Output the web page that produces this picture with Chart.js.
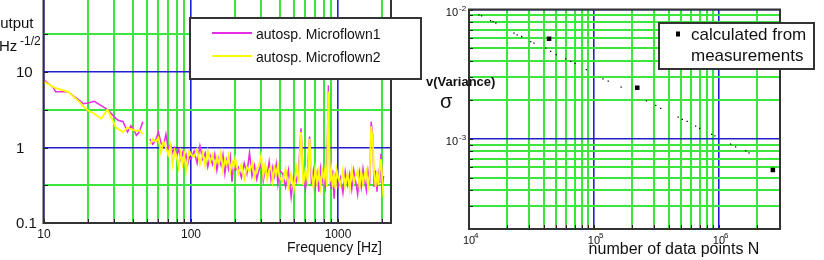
<!DOCTYPE html>
<html>
<head>
<meta charset="utf-8">
<script src="https://cdn.jsdelivr.net/npm/chart.js@4.4.0/dist/chart.umd.min.js"></script>
<style>
  body { margin: 0; background: #fff; width: 824px; height: 260px; overflow: hidden; position: relative; }
  #left { position: absolute; left: 0; top: 0; }
  #right { position: absolute; left: 410px; top: 0; }
</style>
</head>
<body>
<canvas id="left" width="430" height="260"></canvas>
<canvas id="right" width="414" height="260"></canvas>
<script>
// ---- left chart: spectra ----
var freqs = [
  10, 11.5, 12, 14.5, 17.5, 18.5, 20, 22, 24.5, 27, 31, 32, 34.5, 37, 39, 41, 42.5, 44.5, 47, 50,
  52.5, 55, 57.5, 60, 62.5, 65, 67.5, 70, 72.5, 75, 77.5, 80, 82.5, 85, 87.5, 90, 92.5, 95, 97.5, 100,
  105, 110, 115, 120, 125, 130, 135, 140, 145, 150, 155, 160, 165, 170, 175, 180, 185, 190, 195, 200,
  210, 220, 230, 240, 250, 260, 270, 280, 290, 300, 310, 320, 330, 340, 350, 360, 370, 380, 390, 400,
  420, 440, 460, 480, 500, 520, 540, 560, 580, 600, 620, 640, 660, 680, 700, 720, 740, 760, 780, 800,
  820, 840, 860, 880, 900, 920, 940, 960, 980, 1000,
  1040, 1080, 1120, 1160, 1200, 1240, 1280, 1320, 1360, 1400, 1440, 1480, 1520, 1560, 1600, 1640,
  1680, 1720, 1760, 1800, 1840, 1880, 1920, 1960, 2000, 2040
]
var micro1 = [
  7.8, 6.3, 5.5, 5.5, 4.2, 3.8, 3.9, 4.1, 3.6, 3.2, 2.4, 2.3, 2.2, 1.6, 1.95, 1.7, 1.45, 1.6, 2.2, null,
  1.3, 1.1, 1.25, 1.6, 1.15, 1.05, 1.5, 0.95, 1.1, 0.85, 1.0, 0.8, 0.95, 0.7, 0.85, 0.65, 0.8, 0.6, 0.75, 0.7,
  0.9, 0.62, 1.05, 0.7, 0.85, 0.55, 0.78, 0.6, 0.82, 0.5, 0.72, 0.58, 0.8, 0.45, 0.68, 0.52, 0.75, 0.35, 0.6, 0.5,
  0.55, 0.4, 0.62, 0.45, 0.85, 0.42, 0.58, 0.38, 0.5, 0.6, 0.36, 0.52, 0.44, 0.65, 0.38, 0.55, 0.42, 0.6, 0.33, 0.5,
  0.45, 0.3, 0.5, 0.22, 0.42, 0.35, 0.52, 1.8, 0.4, 0.28, 0.48, 1.4, 0.33, 0.5, 0.3, 0.45, 0.26, 0.52, 0.35, 0.44,
  0.3, 0.55, 6.7, 0.4, 0.28, 0.5, 0.21, 0.42, 0.35, 0.3,
  0.4, 0.25, 0.48, 0.32, 0.45, 0.28, 0.5, 0.35, 0.24, 0.46, 0.3, 0.52, 0.36, 0.27, 0.48, 0.33,
  2.2, 1.45, 0.3, 0.5, 0.26, 0.45, 0.34, 0.83, 0.28, 0.42
]
var micro2 = [
  7.4, 6.4, 6.1, 5.5, 4.0, 3.5, 3.1, 2.8, 2.4, 3.2, 1.8, 1.75, 1.6, 1.85, 1.75, 1.7, 1.65, 1.7, 1.5, null,
  1.1, 1.3, 1.2, 1.35, 0.85, 1.2, 1.0, 0.8, 1.05, 0.6, 0.9, 0.75, 0.55, 0.85, 0.6, 0.8, 0.5, 0.7, 0.9, 0.8,
  0.75, 0.95, 0.6, 0.85, 0.58, 0.9, 0.65, 0.8, 0.55, 0.75, 0.62, 0.85, 0.5, 0.7, 0.6, 0.78, 0.48, 0.65, 0.55, 0.72,
  0.45, 0.6, 0.38, 0.55, 0.48, 0.62, 0.4, 0.52, 0.58, 0.78, 0.42, 0.6, 0.38, 0.5, 0.56, 0.36, 0.54, 0.45, 0.58, 0.4,
  0.35, 0.52, 0.3, 0.45, 0.28, 0.55, 0.38, 1.6, 0.32, 0.5, 0.36, 1.3, 0.46, 0.3, 0.52, 0.34, 0.48, 0.3, 0.5, 0.38,
  0.55, 0.3, 5.5, 0.35, 0.5, 0.3, 0.45, 0.28, 0.5, 0.4,
  0.32, 0.5, 0.3, 0.45, 0.28, 0.52, 0.34, 0.42, 0.5, 0.3, 0.48, 0.33, 0.45, 0.5, 0.3, 0.44,
  1.9, 1.3, 0.45, 0.3, 0.48, 0.32, 0.5, 0.7, 0.38, 0.22
]
var xGridL = [10, 20, 30, 40, 50, 60, 70, 80, 90, 100, 200, 300, 400, 500, 600, 700, 800, 900, 1000, 2000]
var yGridL = [0.1, 0.316, 1, 3.16, 10, 31.6]
var xLabelsL = ['10', '100', '1000']
var yLabelsL = ['0.1', '1', '10']
var seriesNames = ['autosp. Microflown1', 'autosp. Microflown2']

// ---- right chart: sigma vs N ----
var nDots = [1.20e4, 1.26e4, 1.49e4, 1.56e4, 1.64e4, 2.29e4, 2.43e4, 2.64e4, 3.12e4, 3.31e4, 4.11e4, 4.50e4,
  4.99e4, 5.94e4, 6.51e4, 7.05e4, 8.68e4, 1.18e5, 1.30e5, 1.65e5, 2.63e5, 3.12e5, 3.42e5, 4.72e5, 5.09e5,
  5.57e5, 6.51e5, 7.01e5, 8.74e5, 9.29e5, 1.24e6, 1.36e6, 1.64e6, 1.74e6]
var sigmaDots = [9.07e-3, 8.91e-3, 8.20e-3, 8.06e-3, 7.83e-3, 6.56e-3, 6.37e-3, 6.18e-3, 5.65e-3, 5.50e-3,
  5.03e-3, 4.74e-3, 4.47e-3, 4.14e-3, 3.97e-3, 3.83e-3, 3.43e-3, 2.91e-3, 2.79e-3, 2.51e-3, 1.96e-3, 1.81e-3,
  1.72e-3, 1.47e-3, 1.41e-3, 1.36e-3, 1.25e-3, 1.20e-3, 1.08e-3, 1.05e-3, 9.08e-4, 8.65e-4, 8.06e-4, 7.78e-4]
var nMeas = [4.37e4, 2.22e5, 2.70e6]
var sigmaMeas = [5.93e-3, 2.48e-3, 5.73e-4]
var xGridR = [1e4, 2e4, 3e4, 4e4, 5e4, 6e4, 7e4, 8e4, 9e4, 1e5, 2e5, 3e5, 4e5, 5e5, 6e5, 7e5, 8e5, 9e5, 1e6, 2e6]
var yGridR = [2e-4, 3e-4, 4e-4, 5e-4, 6e-4, 7e-4, 8e-4, 9e-4, 1e-3, 2e-3, 3e-3, 4e-3, 5e-3, 6e-3, 7e-3, 8e-3, 9e-3, 1e-2]
var xLabelsR = [['10', '4'], ['10', '5'], ['10', '6']]
var yLabelsR = [['10', '-3'], ['10', '-2']]

var GREEN = '#3ce63c', BLUE = '#1f1fcc', AXIS = '#333333'
var MAGENTA = '#e62ee6', YELLOW = '#ffff00'
var FONT = "'Liberation Sans', Arial, sans-serif"

function isDecade(v) {
  var l = Math.log10(v)
  return Math.abs(l - Math.round(l)) < 1e-6
}
function gridOpts() {
  return {
    drawTicks: false,
    color: function(c) { return isDecade(c.tick.value) ? BLUE : GREEN },
    lineWidth: function(c) { return isDecade(c.tick.value) ? 1.6 : 2 }
  }
}
function pts(xs, ys) {
  return xs.map(function(x, i) { return { x: x, y: ys[i] } })
}
function inwardTicks(ctx, a, x, y, xs, ys) {
  ctx.strokeStyle = '#222'
  ctx.lineWidth = 1
  ctx.beginPath()
  xs.forEach(function(v) {
    var px = Math.round(x.getPixelForValue(v)) + 0.5
    ctx.moveTo(px, a.bottom); ctx.lineTo(px, a.bottom - 4)
  })
  ys.forEach(function(v) {
    var py = Math.round(y.getPixelForValue(v)) + 0.5
    ctx.moveTo(a.left, py); ctx.lineTo(a.left + 4, py)
  })
  ctx.stroke()
}

var leftDecor = {
  id: 'leftDecor',
  afterDraw: function(chart) {
    var ctx = chart.ctx, a = chart.chartArea, x = chart.scales.x, y = chart.scales.y
    ctx.save()
    inwardTicks(ctx, a, x, y, xGridL, yGridL)
    ctx.strokeStyle = AXIS
    ctx.lineWidth = 2
    ctx.beginPath()
    ctx.moveTo(a.left - 0.5, a.top); ctx.lineTo(a.left - 0.5, a.bottom)
    ctx.lineTo(a.right, a.bottom); ctx.lineTo(a.right, a.top)
    ctx.stroke()

    ctx.fillStyle = '#111'
    ctx.textBaseline = 'middle'
    ctx.textAlign = 'left'
    ctx.font = '15px ' + FONT
    yLabelsL.forEach(function(t) {
      ctx.fillText(t, 16, y.getPixelForValue(parseFloat(t)) + 1)
    })
    ctx.textAlign = 'center'
    ctx.font = '12px ' + FONT
    xLabelsL.forEach(function(t) {
      ctx.fillText(t, x.getPixelForValue(parseFloat(t)), 235)
    })
    ctx.textAlign = 'left'
    ctx.font = '14px ' + FONT
    ctx.fillText('Frequency [Hz]', 287, 248)

    ctx.font = '15px ' + FONT
    ctx.fillText('Output', -11.5, 24)
    ctx.fillText('Hz', -1, 47)
    ctx.font = '12px ' + FONT
    ctx.fillText('-1/2', 20, 42)

    // legend box
    ctx.fillStyle = '#fff'
    ctx.fillRect(190, 18, 231, 61)
    ctx.strokeStyle = AXIS
    ctx.lineWidth = 2
    ctx.strokeRect(190, 18, 231, 61)
    var cols = [MAGENTA, YELLOW]
    seriesNames.forEach(function(n, i) {
      var ly = 33 + i * 23
      ctx.strokeStyle = cols[i]
      ctx.lineWidth = 2
      ctx.beginPath(); ctx.moveTo(212, ly); ctx.lineTo(252, ly); ctx.stroke()
      ctx.fillStyle = '#111'
      ctx.font = '14px ' + FONT
      ctx.fillText(n, 256, ly + 2)
    })
    ctx.restore()
  }
}

new Chart(document.getElementById('left'), {
  type: 'line',
  data: {
    datasets: [
      { label: seriesNames[0], data: pts(freqs, micro1), borderColor: MAGENTA, borderWidth: 1.5,
        pointRadius: 0, tension: 0, spanGaps: false, order: 1 },
      { label: seriesNames[1], data: pts(freqs, micro2), borderColor: YELLOW, borderWidth: 1.8,
        pointRadius: 0, tension: 0, spanGaps: false, order: 0 }
    ]
  },
  options: {
    responsive: false,
    animation: false,
    events: [],
    layout: { padding: { left: 0, right: 39, top: 0, bottom: 0 } },
    plugins: { legend: { display: false }, tooltip: { enabled: false } },
    scales: {
      x: {
        type: 'logarithmic', min: 10, max: 2293,
        afterBuildTicks: function(s) { s.ticks = xGridL.map(function(v) { return { value: v } }) },
        afterFit: function(s) { s.height = 37 },
        ticks: { display: false },
        grid: gridOpts(),
        border: { display: false }
      },
      y: {
        type: 'logarithmic', min: 0.1, max: 90,
        afterBuildTicks: function(s) { s.ticks = yGridL.map(function(v) { return { value: v } }) },
        afterFit: function(s) { s.width = 44 },
        ticks: { display: false },
        grid: gridOpts(),
        border: { display: false }
      }
    }
  },
  plugins: [leftDecor]
})

var rightDecor = {
  id: 'rightDecor',
  afterDraw: function(chart) {
    var ctx = chart.ctx, a = chart.chartArea, x = chart.scales.x, y = chart.scales.y
    ctx.save()
    inwardTicks(ctx, a, x, y, xGridR, yGridR)
    ctx.strokeStyle = AXIS
    ctx.lineWidth = 2
    ctx.strokeRect(a.left, a.top, a.right - a.left, a.bottom - a.top)

    ctx.fillStyle = '#111'
    ctx.textBaseline = 'middle'
    yLabelsR.forEach(function(t) {
      var py = y.getPixelForValue(Math.pow(10, parseInt(t[1], 10)))
      ctx.textAlign = 'right'
      ctx.font = '11px ' + FONT
      ctx.fillText(t[0], 48, py + 3)
      ctx.textAlign = 'left'
      ctx.font = '8px ' + FONT
      ctx.fillText(t[1], 49, py - 1)
    })
    xLabelsR.forEach(function(t) {
      var px = x.getPixelForValue(Math.pow(10, parseInt(t[1], 10)))
      ctx.textAlign = 'center'
      ctx.font = '11px ' + FONT
      ctx.fillText(t[0], px, 241)
      ctx.textAlign = 'left'
      ctx.font = '8px ' + FONT
      ctx.fillText(t[1], px + 5, 236)
    })
    ctx.textAlign = 'center'
    ctx.font = '16px ' + FONT
    ctx.fillText('number of data points N', 264, 250)
    ctx.textAlign = 'left'
    ctx.font = 'bold 13px ' + FONT
    ctx.fillText('v(Variance)', 16, 82)
    ctx.font = '20px ' + FONT
    ctx.fillText('σ', 30, 102)

    // legend box
    ctx.fillStyle = '#fff'
    ctx.fillRect(249, 23, 155, 46)
    ctx.strokeStyle = AXIS
    ctx.lineWidth = 2
    ctx.strokeRect(249, 23, 155, 46)
    ctx.fillStyle = '#000'
    ctx.fillRect(266, 31.5, 4, 5)
    ctx.fillStyle = '#111'
    ctx.font = '17px ' + FONT
    ctx.fillText('calculated from', 281, 35)
    ctx.fillText('measurements', 281, 56)
    ctx.restore()
  }
}

new Chart(document.getElementById('right'), {
  type: 'scatter',
  data: {
    datasets: [
      { label: 'sigma', data: pts(nDots, sigmaDots), backgroundColor: '#000', borderWidth: 0,
        pointStyle: 'rect', pointRadius: 0.9 },
      { label: 'calculated from measurements', data: pts(nMeas, sigmaMeas), backgroundColor: '#000',
        borderWidth: 0, pointStyle: 'rect', pointRadius: 3.2 }
    ]
  },
  options: {
    responsive: false,
    animation: false,
    events: [],
    layout: { padding: { left: 0, right: 44, top: 9.5, bottom: 0 } },
    plugins: { legend: { display: false }, tooltip: { enabled: false } },
    scales: {
      x: {
        type: 'logarithmic', min: 1e4, max: 3.08e6,
        afterBuildTicks: function(s) { s.ticks = xGridR.map(function(v) { return { value: v } }) },
        afterFit: function(s) { s.height = 31 },
        ticks: { display: false },
        grid: gridOpts(),
        border: { display: false }
      },
      y: {
        type: 'logarithmic', min: 2e-4, max: 1e-2,
        afterBuildTicks: function(s) { s.ticks = yGridR.map(function(v) { return { value: v } }) },
        afterFit: function(s) { s.width = 59 },
        ticks: { display: false },
        grid: gridOpts(),
        border: { display: false }
      }
    }
  },
  plugins: [rightDecor]
})
</script>
</body>
</html>
